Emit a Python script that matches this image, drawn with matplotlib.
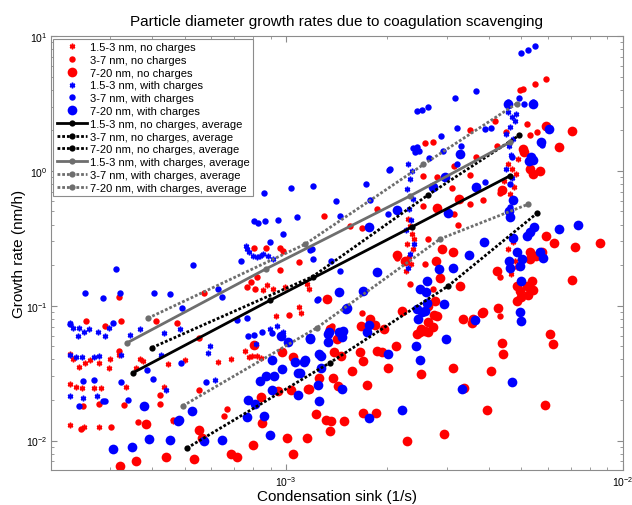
import matplotlib
matplotlib.use("Agg")
import matplotlib.pyplot as plt
from matplotlib.ticker import LogLocator, NullFormatter

plt.rcParams['font.family'] = ['Liberation Sans', 'DejaVu Sans']
plt.rcParams['mathtext.fontset'] = 'custom'
plt.rcParams['mathtext.rm'] = 'Liberation Sans'
plt.rcParams['axes.unicode_minus'] = False

# (condensation sink [1e-3 1/s], growth rate [nm/h])
# no charges
nc_15 = [(.228, .0439), (.233, .0403), (.242, .0352), (.253, .0377), (.262, .0396), (.278, .0377),
         (.298, .0346), (.300, .0403), (.319, .0432), (.229, .0261), (.237, .0251), (.247, .0246),
         (.269, .0246), (.282, .0246), (.334, .0251), (.434, .0251), (.229, .0131), (.251, .0126),
         (.278, .0126), (.462, .0139), (.358, .0346), (.368, .0403), (.376, .0390), (.446, .0370),
         (.501, .0396), (.628, .0383), (.687, .0403), (.756, .0462), (.776, .0416), (.793, .0423),
         (.820, .0423), (.843, .0410), (.855, .131), (.878, .142), (.915, .133), (.993, .137),
         (.934, .0840), (1.108, .0884), (1.093, .0985), (1.155, .145), (1.170, .133),
         (2.30, .440), (2.335, .387), (2.37, .341), (2.29, .287), (2.38, .264), (2.32, .230),
         (2.35, .204), (2.27, .181), (2.40, .313), (4.57, 1.125), (4.70, 1.033), (4.82, .948),
         (4.44, .840), (4.76, .760), (4.63, .674), (4.89, 1.225), (4.73, .297), (4.57, .264),
         (4.79, .215), (4.66, .172), (4.86, .194)]
nc_37 = [(.319, .116), (.255, .0771), (.290, .0706), (.323, .0771), (.319, .0462), (.411, .0771),
         (.475, .0745), (.246, .0122), (.302, .0126), (.363, .0137), (.278, .0187), (.249, .0179),
         (.330, .0183), (.422, .0187), (.422, .0216), (.462, .0142), (.552, .0238), (.655, .0153),
         (.668, .0172), (.803, .268), (.872, .268), (.960, .268), (.980, .255), (1.093, .210),
         (.960, .184), (.820, .162), (.571, .125), (1.021, .0853), (.552, .0577), (.766, .137),
         (.809, .133), (.787, .151), (1.297, .463), (1.549, .387), (1.68, .378), (2.587, 1.61),
         (2.73, 1.64), (3.11, .747), (3.52, .931), (4.41, .734), (3.85, .609), (3.52, .568),
         (3.15, .479), (3.24, .397), (2.64, .313), (1.864, .522), (2.587, .204), (2.14, .226),
         (2.335, .145), (2.73, .133), (4.24, 1.52), (4.50, 1.94), (5.19, 2.23), (5.57, 1.94),
         (5.30, 1.84), (5.88, 2.11), (3.52, 2.01), (4.18, 2.33), (3.15, 1.09), (3.67, 1.27),
         (2.81, .905), (2.55, .922), (2.55, .553), (4.32, .686), (4.32, .162), (4.32, .0842),
         (5.49, 4.41), (5.92, 4.80), (4.95, 3.97), (5.05, 4.05), (1.68, .0884), (1.37, .0706)]
nc_720 = [(.383, .0133), (.321, .0065), (.358, .0070), (.440, .0075), (.803, .0512), (.973, .0454),
          (1.049, .0416), (.843, .0210), (1.035, .0238), (1.170, .0242), (.947, .0234), (.552, .0119),
          (.563, .0105), (.849, .0135), (1.007, .0105), (1.155, .0105), (.798, .0092), (1.049, .0079),
          (.687, .0080), (.716, .0075), (.533, .0073), (2.14, .239), (5.05, 1.45), (5.92, .329),
          (5.30, .250), (4.95, .129), (5.38, .153), (4.86, .139), (5.19, .139), (4.24, .181),
          (4.27, .0962), (3.35, .0798), (3.85, .0899), (4.38, .0530), (3.59, .0798), (2.81, .0838),
          (2.52, .0673), (2.64, .0640), (2.45, .0618), (2.64, .0999), (2.21, .0912), (1.776, .0798),
          (1.67, .0711), (1.351, .0673), (1.42, .0567), (1.32, .112), (2.87, .160), (3.29, .139),
          (2.79, .215), (3.13, .250), (2.26, .215), (2.91, .264), (3.26, .619), (2.81, .531),
          (4.38, .721), (7.06, 1.98), (6.47, 1.50), (6.25, .292), (7.21, .272), (8.56, .292),
          (7.06, .155), (6.20, .0521), (4.41, .0439), (5.09, 1.39), (5.90, 2.15), (5.30, 1.033),
          (5.42, .948), (5.68, .990), (5.76, .250), (5.53, .235), (5.30, .222), (5.42, .131),
          (5.23, .120), (4.98, .116), (4.86, .108), (1.351, .0118), (1.31, .0142), (1.36, .0139),
          (1.49, .0139), (1.227, .0158), (1.69, .0161), (1.85, .0161), (2.29, .0100), (2.95, .0112),
          (1.74, .0258), (1.38, .0293), (1.43, .0255), (1.57, .0327), (1.69, .0390), (1.66, .0454),
          (1.86, .0462), (1.93, .0454), (2.12, .0502), (2.01, .0346), (2.52, .0312), (3.13, .0346),
          (4.07, .0327), (3.96, .0168), (5.88, .0183), (6.08, .0618), (3.57, .0745), (3.82, .0884),
          (1.253, .0293), (1.163, .0242), (1.39, .0454), (1.457, .0423), (1.838, .0720),
          (1.955, .0667), (2.75, .0853), (2.73, .0692), (2.64, .0760), (2.50, .0640), (2.587, .0654),
          (3.38, .0246), (2.77, .108)]

# with charges
wc_15 = [(.229, .0745), (.233, .0686), (.242, .0686), (.241, .0595), (.251, .0643), (.260, .0673),
         (.276, .0643), (.290, .0595), (.298, .0686), (.344, .0606), (.368, .0673), (.229, .0431),
         (.237, .0416), (.247, .0416), (.269, .0416), (.278, .0423), (.323, .0431), (.425, .0431),
         (.440, .0238), (.229, .0214), (.249, .0207), (.274, .0214), (.434, .0628), (.484, .0673),
         (.594, .0502), (.587, .0446), (.814, .0521), (.896, .0673), (.940, .0706), (.980, .0643),
         (.615, .0279), (.761, .279), (.766, .264), (.776, .250), (.798, .235), (.820, .230),
         (.837, .235), (.855, .242), (.884, .235), (.915, .222), (2.30, 1.125), (2.37, 1.0),
         (2.335, .871), (2.29, .734), (2.38, .619), (2.32, .522), (2.35, .432), (2.27, .364),
         (2.40, .287), (2.335, .242), (2.30, .191), (4.57, 2.73), (4.70, 2.51), (4.79, 2.33),
         (4.63, 2.12), (4.50, 1.88), (4.73, 1.72), (4.60, 1.53), (4.82, 2.64), (4.66, 1.31),
         (4.50, 1.033), (4.70, .89)]
wc_37 = [(.313, .187), (.253, .124), (.286, .114), (.321, .124), (.405, .124), (.452, .122),
         (.491, .0964), (.530, .200), (.306, .0745), (.323, .0272), (.402, .0287), (.487, .0376),
         (.249, .0277), (.269, .0282), (.386, .0333), (.242, .0179), (.290, .0195), (.339, .0200),
         (.228, .0733), (.803, .424), (.826, .408), (.866, .424), (.947, .432), (1.078, .457),
         (.980, .341), (.896, .298), (.735, .215), (.628, .133), (.646, .116), (1.178, .257),
         (1.203, .222), (1.236, .110), (.716, .0785), (.766, .0813), (.771, .0595), (.803, .0606),
         (.849, .0643), (.908, .0628), (.578, .0272), (.286, .0195), (2.45, 2.78), (2.53, 2.83),
         (2.64, 2.95), (3.22, 2.09), (3.90, 2.05), (4.07, 2.09), (1.203, .774), (1.41, .598),
         (1.73, .800), (2.02, 1.01), (1.776, .607), (1.447, .463), (3.31, 1.52), (2.93, 1.41),
         (3.22, 1.125), (2.99, .888), (3.64, .747), (3.90, .831), (1.36, .215), (1.194, .264),
         (1.447, .180), (1.245, .112), (2.38, 1.48), (2.45, 1.50), (2.48, 1.41), (2.42, 1.38),
         (3.67, 3.91), (3.18, 3.47), (2.89, 1.82), (2.66, 1.25), (2.037, 1.033), (1.035, .747),
         (.860, .687), (2.01, .479), (5.45, 3.18), (5.76, 1.55), (4.63, .800), (4.63, .542),
         (4.70, 1.27), (4.98, 7.48), (5.23, 7.92), (5.49, 8.40), (4.92, 3.47), (4.57, 3.23),
         (5.42, 3.23), (5.09, 3.13)]
wc_720 = [(.378, .0179), (.306, .0087), (.349, .0090), (.391, .0103), (.452, .0101), (.478, .0139),
          (.967, .0595), (1.014, .0540), (1.178, .0567), (.909, .0396), (1.063, .0383), (1.139, .0396),
          (1.086, .0318), (.837, .0277), (.872, .0303), (.921, .0303), (.973, .0340), (.909, .0238),
          (1.086, .0218), (.771, .0200), (.809, .0187), (.860, .0153), (.766, .0150), (.896, .0110),
          (.646, .0101), (.526, .0167), (.481, .0142), (.569, .0099), (1.764, .384), (2.14, .514),
          (3.03, .488), (3.29, 1.335), (3.87, .298), (3.49, .239), (3.13, .191), (2.85, .187),
          (2.62, .153), (2.50, .133), (2.60, .126), (2.45, .0947), (2.53, .0899), (2.47, .0798),
          (2.62, .105), (1.864, .177), (1.437, .126), (1.508, .0947), (1.69, .128), (2.99, .0567),
          (1.178, .0578), (1.342, .0643), (1.437, .0643), (4.95, .0899), (5.45, .384), (5.30, .353),
          (5.19, .329), (5.02, .222), (4.95, .197), (5.68, .250), (4.60, .215), (4.73, .320),
          (5.34, 1.27), (5.26, 1.18), (5.72, 1.64), (4.57, 3.13), (5.42, 3.13), (4.73, .607),
          (4.60, .501), (4.63, .457), (3.67, .761), (2.97, .905), (2.73, .761), (6.03, 2.05),
          (5.42, 1.20), (6.47, .371), (7.36, .397), (5.80, .226), (4.98, .153), (4.98, .0773),
          (4.63, .191), (4.86, .250), (1.333, .0618), (1.333, .0540), (1.477, .0654), (1.467, .0585),
          (1.74, .0643), (1.76, .0720), (1.131, .0383), (1.100, .0318), (1.245, .0258), (1.253, .0195),
          (1.27, .0346), (1.253, .0439), (1.27, .0423), (1.467, .0242), (1.517, .0964), (2.01, .0439),
          (1.764, .0148), (2.21, .0168), (2.43, .0502), (2.50, .0396), (3.33, .0242), (3.64, .0785),
          (4.70, .0272), (2.95, .103), (2.587, .0914)]

# averages per condensation sink bin
avg_nc_15_cs = [0.351, 0.896, 2.37, 4.63]
avg_nc_15_gr = [0.0318, 0.1096, 0.385, 0.92]
avg_nc_37_cs = [0.40, 1.20, 2.64, 4.92]
avg_nc_37_gr = [0.0489, 0.1645, 0.662, 1.83]
avg_nc_720_cs = [0.508, 1.351, 3.03, 5.56]
avg_nc_720_gr = [0.0088, 0.0378, 0.140, 0.484]
avg_wc_15_cs = [0.337, 0.870, 2.34, 4.63]
avg_wc_15_gr = [0.0530, 0.187, 0.653, 1.63]
avg_wc_37_cs = [0.389, 1.14, 2.56, 4.84]
avg_wc_37_gr = [0.0808, 0.286, 1.115, 3.15]
avg_wc_720_cs = [0.494, 1.234, 2.87, 5.25]
avg_wc_720_gr = [0.0181, 0.0685, 0.313, 0.567]

GRAY = '#6e6e6e'
DOT = (0, (1, 0.7))

fig = plt.figure(figsize=(6.32, 5.06), dpi=100)
ax = fig.add_axes([0.0802, 0.0682, 0.9051, 0.8587])

def scatter(pts, color, size, label):
    cs = [p[0] * 1e-3 for p in pts]
    gr = [p[1] for p in pts]
    if size == 'small':
        ax.plot(cs, gr, linestyle='none', marker=(6, 2, 0), ms=4, mew=1.1,
                color=color, label=label)
    else:
        ms = 4.6 if size == 'medium' else 7
        ax.plot(cs, gr, linestyle='none', marker='o', ms=ms, mew=0,
                color=color, label=label)

scatter(nc_15, 'red', 'small', '1.5-3 nm, no charges')
scatter(nc_37, 'red', 'medium', '3-7 nm, no charges')
scatter(nc_720, 'red', 'large', '7-20 nm, no charges')
scatter(wc_15, 'blue', 'small', '1.5-3 nm, with charges')
scatter(wc_37, 'blue', 'medium', '3-7 nm, with charges')
scatter(wc_720, 'blue', 'large', '7-20 nm, with charges')

def average(cs, gr, color, ls, label):
    ax.plot([c * 1e-3 for c in cs], gr, color=color, linestyle=ls, lw=2,
            marker='o', ms=4.5, mew=0, label=label)

average(avg_nc_15_cs, avg_nc_15_gr, 'k', '-', '1.5-3 nm, no charges, average')
average(avg_nc_37_cs, avg_nc_37_gr, 'k', DOT, '3-7 nm, no charges, average')
average(avg_nc_720_cs, avg_nc_720_gr, 'k', DOT, '7-20 nm, no charges, average')
average(avg_wc_15_cs, avg_wc_15_gr, GRAY, '-', '1.5-3 nm, with charges, average')
average(avg_wc_37_cs, avg_wc_37_gr, GRAY, DOT, '3-7 nm, with charges, average')
average(avg_wc_720_cs, avg_wc_720_gr, GRAY, DOT, '7-20 nm, with charges, average')

ax.set_xscale('log')
ax.set_yscale('log')
ax.set_xlim(2e-4, 1e-2)
ax.set_ylim(6e-3, 10)
ax.xaxis.set_minor_locator(LogLocator(base=10, subs=range(2, 10)))
ax.yaxis.set_minor_locator(LogLocator(base=10, subs=range(2, 10)))
ax.xaxis.set_minor_formatter(NullFormatter())
ax.yaxis.set_minor_formatter(NullFormatter())

for s in ax.spines.values():
    s.set_color('#8c8c8c')
ax.tick_params(which='both', direction='in', top=True, right=True,
               color='#8c8c8c', labelsize=7.5)
ax.tick_params(which='major', length=4, pad=2.5)
ax.tick_params(which='minor', length=2.5)

ax.set_title('Particle diameter growth rates due to coagulation scavenging',
             fontsize=11, pad=8)
ax.set_xlabel('Condensation sink (1/s)', fontsize=11, labelpad=1)
ax.set_ylabel('Growth rate (nm/h)', fontsize=11, labelpad=0)

leg = ax.legend(loc='upper left', fontsize=8, numpoints=1, handlelength=2.7,
                handletextpad=0.3, labelspacing=0.25, borderpad=0.3,
                borderaxespad=0.25, fancybox=False, framealpha=1)
leg.get_frame().set_edgecolor('#8c8c8c')
leg.get_frame().set_linewidth(0.8)

fig.savefig('out.png', dpi=100)
